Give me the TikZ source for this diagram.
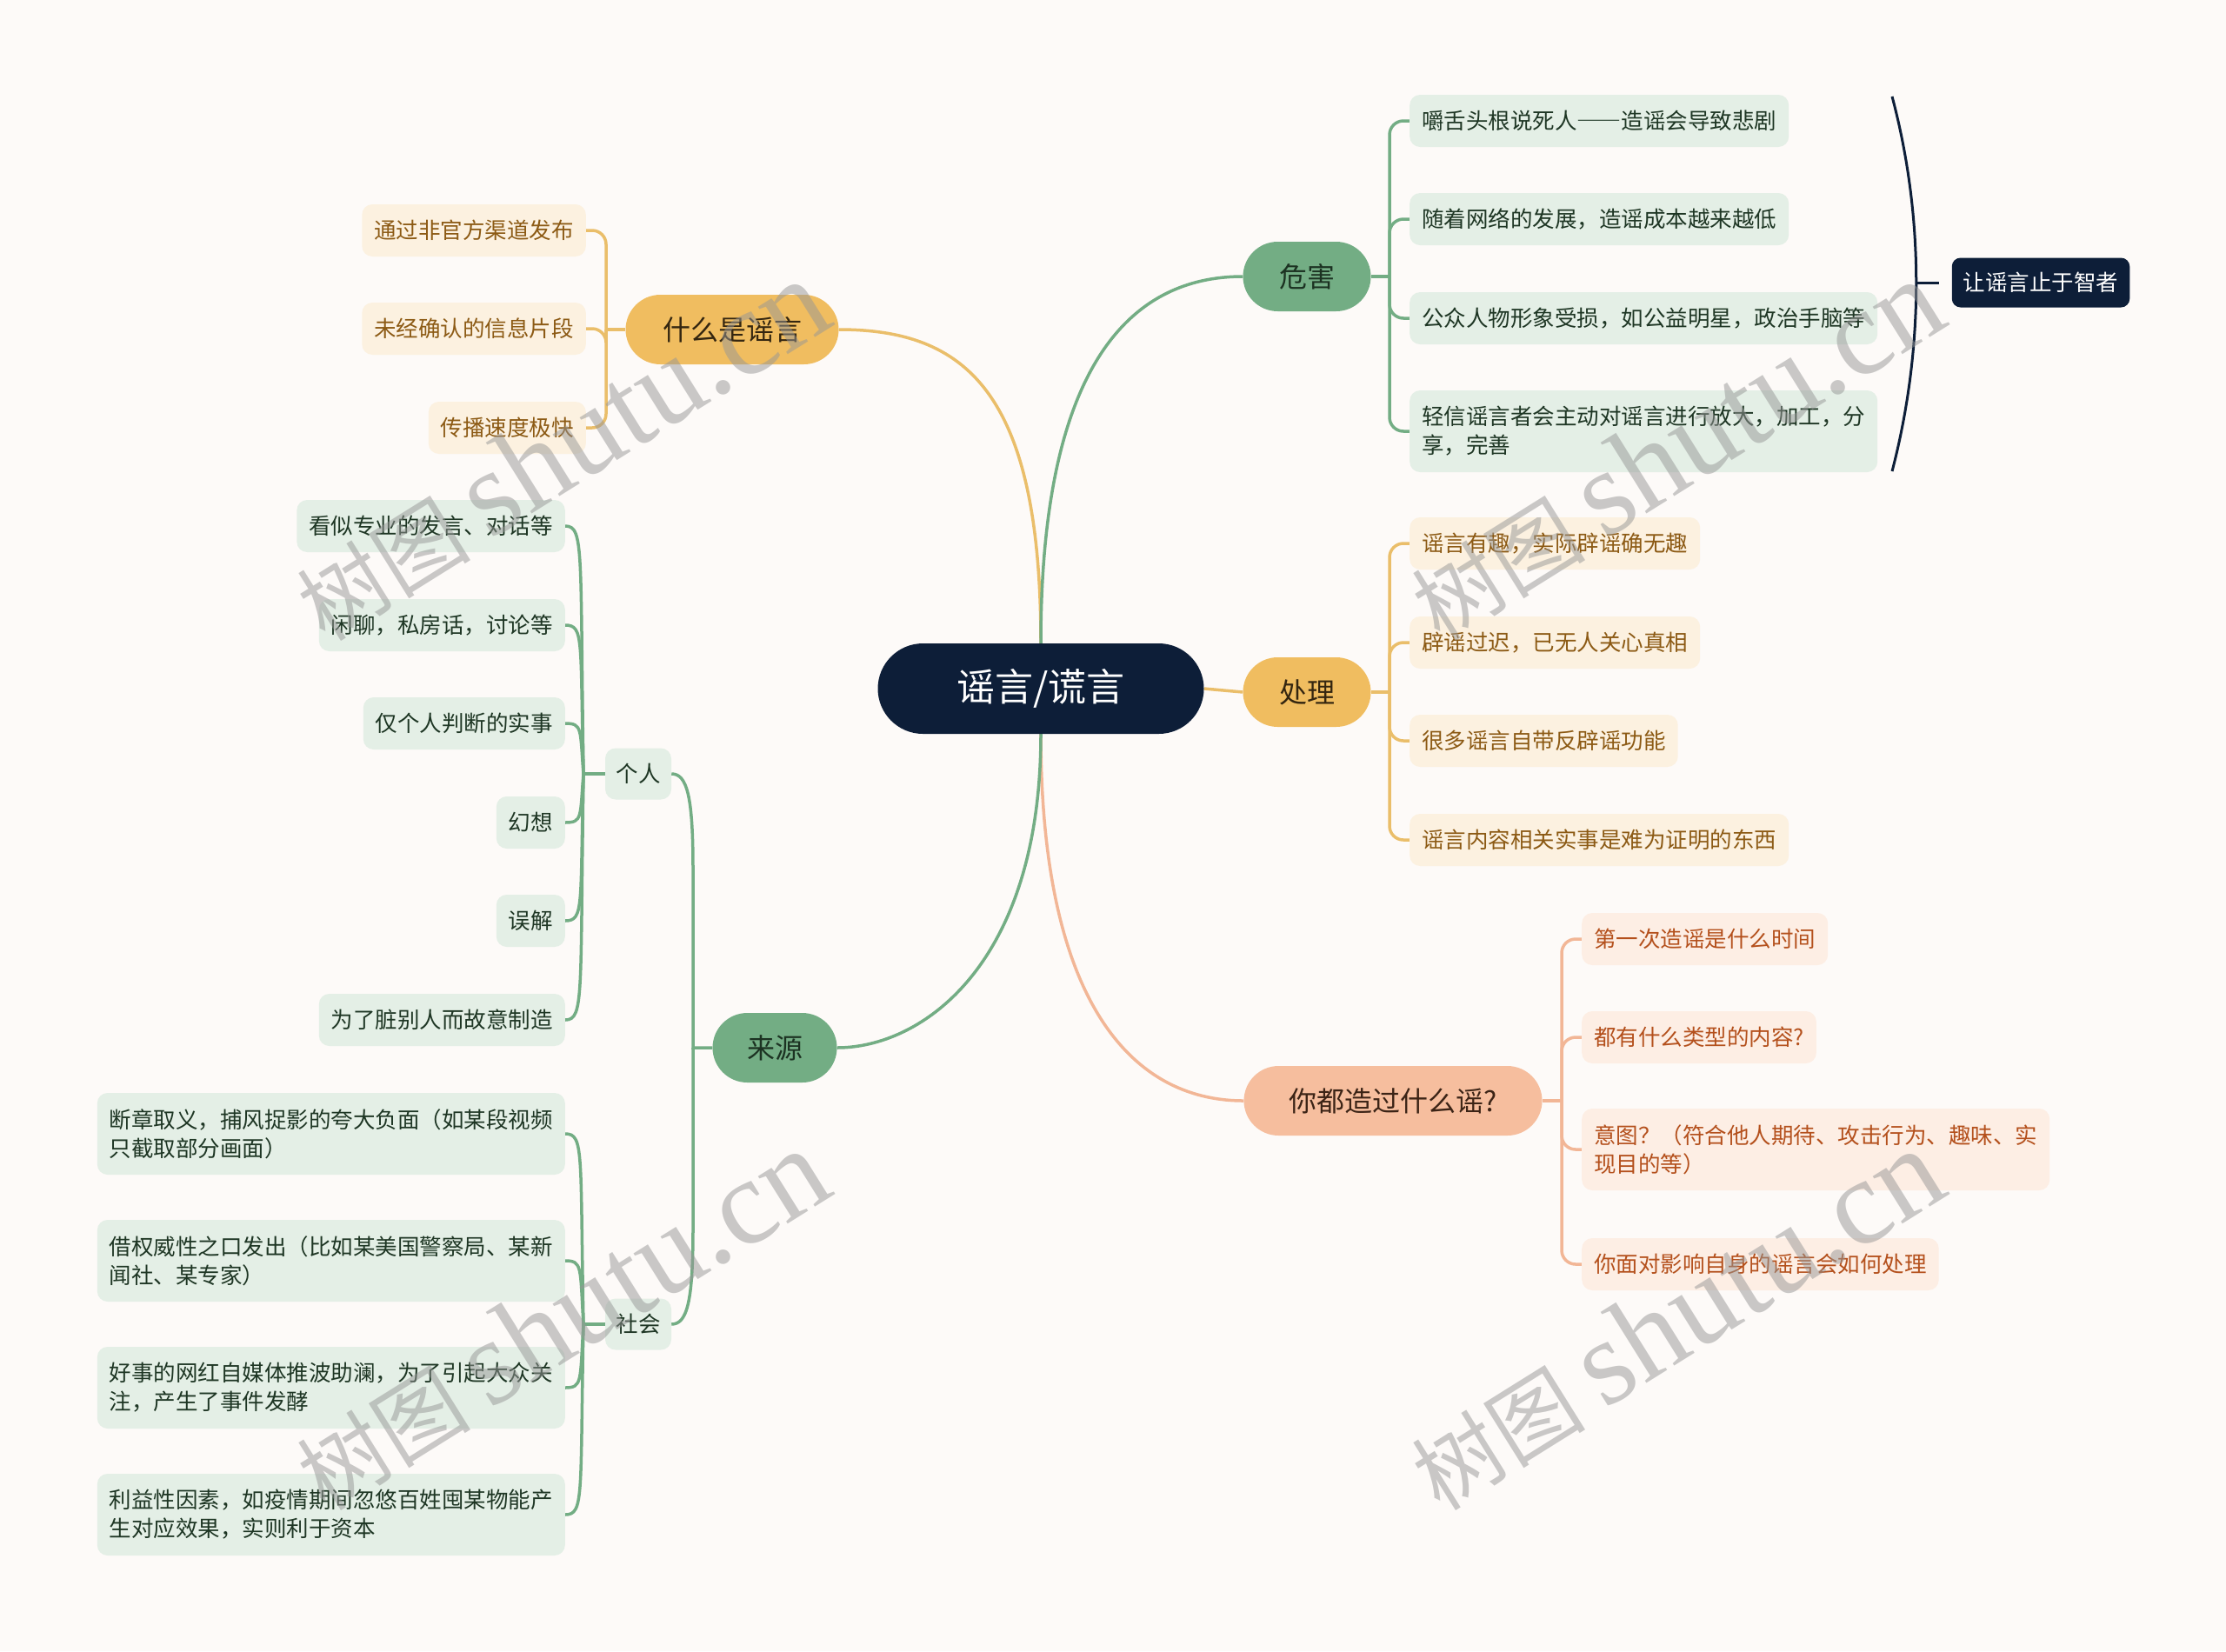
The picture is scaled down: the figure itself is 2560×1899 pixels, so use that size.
\documentclass[tikz,border=0pt]{standalone}
\usepackage{fontspec}
\setmainfont{Noto Sans CJK SC}
\newfontfamily\wmlat{Liberation Serif}
\newfontfamily\wmcjk{Noto Sans CJK SC}
\usetikzlibrary{backgrounds}
\definecolor{bg}{RGB}{253,250,248}
\definecolor{navy}{RGB}{13,30,56}
\definecolor{gold}{RGB}{240,189,96}
\definecolor{goldln}{RGB}{234,190,106}
\definecolor{goldtxt}{RGB}{52,38,16}
\definecolor{yleaf}{RGB}{252,241,224}
\definecolor{ytxt}{RGB}{140,90,20}
\definecolor{grn}{RGB}{115,173,132}
\definecolor{grntxt}{RGB}{28,50,34}
\definecolor{gleaf}{RGB}{228,239,230}
\definecolor{gtxt}{RGB}{30,54,36}
\definecolor{salmon}{RGB}{246,190,158}
\definecolor{salmonln}{RGB}{242,182,150}
\definecolor{salmontxt}{RGB}{60,36,22}
\definecolor{sleaf}{RGB}{253,238,228}
\definecolor{stxt}{RGB}{180,80,28}
\definecolor{wmgray}{RGB}{150,150,150}
\tikzset{
  rootnode/.style={fill=navy, text=white, rounded corners=52pt, minimum width=375pt,
    minimum height=104pt, inner sep=0pt, font=\fontsize{44}{52}\selectfont},
  mainnode/.style={rounded corners=40pt, minimum height=80pt, inner sep=0pt,
    font=\fontsize{32}{38}\selectfont},
  leaf/.style={rounded corners=12pt, inner xsep=14pt, inner ysep=0pt, minimum height=60pt,
    font=\fontsize{25.5}{33}\selectfont},
  twoline/.style={minimum height=94pt, align=left},
  gl/.style={leaf, fill=gleaf, text=gtxt},
  yl/.style={leaf, fill=yleaf, text=ytxt},
  sl/.style={leaf, fill=sleaf, text=stxt},
  gline/.style={draw=grn, line width=3.5pt},
  yline/.style={draw=goldln, line width=3.5pt},
  sline/.style={draw=salmonln, line width=3.5pt},
  nline/.style={draw=navy, line width=3pt},
  brk/.style={rounded corners=16pt},
  wm/.style={text=wmgray, text opacity=0.5, inner sep=0pt, rotate=32},
}
\begin{document}
\begin{tikzpicture}[x=1pt, y=-1pt]
\useasboundingbox (0,0) rectangle (2560,1899);
\begin{scope}[on background layer]
\fill[bg] (0,0) rectangle (2560,1899);
\end{scope}

% ---------- nodes ----------
\node[rootnode] (root) at (1197,792) {谣言/谎言};

\node[mainnode, fill=gold, text=goldtxt, minimum width=245pt] (shenme) at (842,379) {什么是谣言};
\node[mainnode, fill=grn, text=grntxt, minimum width=147pt] (weihai) at (1503,318) {危害};
\node[mainnode, fill=gold, text=goldtxt, minimum width=147pt] (chuli) at (1503,796) {处理};
\node[mainnode, fill=salmon, text=salmontxt, minimum width=343pt] (nidou) at (1602,1266) {你都造过什么谣?};
\node[mainnode, fill=grn, text=grntxt, minimum width=143pt] (laiyuan) at (891,1205) {来源};

% 什么是谣言 leaves
\node[yl, anchor=east] (s1) at (674,265) {通过非官方渠道发布};
\node[yl, anchor=east] (s2) at (674,378) {未经确认的信息片段};
\node[yl, anchor=east] (s3) at (674,492) {传播速度极快};

% 危害 leaves
\node[gl, anchor=west] (w1) at (1621,139) {嚼舌头根说死人{\addfontfeature{CharacterWidth=Full}——}造谣会导致悲剧};
\node[gl, anchor=west] (w2) at (1621,252) {随着网络的发展，造谣成本越来越低};
\node[gl, anchor=west] (w3) at (1621,366) {公众人物形象受损，如公益明星，政治手脑等};
\node[gl, twoline, anchor=west] (w4) at (1621,496) {轻信谣言者会主动对谣言进行放大，加工，分\\享，完善};
\node[rounded corners=10pt, fill=navy, text=white, inner xsep=13pt, inner ysep=0pt,
  minimum height=57pt, font=\fontsize{25.5}{33}\selectfont] (zhizhe) at (2347,325) {让谣言止于智者};
\coordinate (brkmid) at (2204,325);

% 处理 leaves
\node[yl, anchor=west] (c1) at (1621,625) {谣言有趣，实际辟谣确无趣};
\node[yl, anchor=west] (c2) at (1621,739) {辟谣过迟，已无人关心真相};
\node[yl, anchor=west] (c3) at (1621,852) {很多谣言自带反辟谣功能};
\node[yl, anchor=west] (c4) at (1621,966) {谣言内容相关实事是难为证明的东西};

% 你都造过什么谣 leaves
\node[sl, anchor=west] (n1) at (1819,1080) {第一次造谣是什么时间};
\node[sl, anchor=west] (n2) at (1819,1193) {都有什么类型的内容?};
\node[sl, twoline, anchor=west] (n3) at (1819,1322) {意图？（符合他人期待、攻击行为、趣味、实\\现目的等）};
\node[sl, anchor=west] (n4) at (1819,1454) {你面对影响自身的谣言会如何处理};

% 来源 sub-nodes
\node[gl, inner xsep=12.5pt, minimum height=59pt] (geren) at (734,890) {个人};
\node[gl, inner xsep=12.5pt, minimum height=59pt] (shehui) at (734,1523) {社会};

\node[gl, anchor=east] (g1) at (650,605) {看似专业的发言、对话等};
\node[gl, anchor=east] (g2) at (650,719) {闲聊，私房话，讨论等};
\node[gl, anchor=east] (g3) at (650,832) {仅个人判断的实事};
\node[gl, anchor=east] (g4) at (650,946) {幻想};
\node[gl, anchor=east] (g5) at (650,1059) {误解};
\node[gl, anchor=east] (g6) at (650,1173) {为了脏别人而故意制造};

\node[gl, twoline, anchor=east] (h1) at (650,1304) {断章取义，捕风捉影的夸大负面（如某段视频\\只截取部分画面）};
\node[gl, twoline, anchor=east] (h2) at (650,1450) {借权威性之口发出（比如某美国警察局、某新\\闻社、某专家）};
\node[gl, twoline, anchor=east] (h3) at (650,1596) {好事的网红自媒体推波助澜，为了引起大众关\\注，产生了事件发酵};
\node[gl, twoline, anchor=east] (h4) at (650,1742) {利益性因素，如疫情期间忽悠百姓囤某物能产\\生对应效果，实则利于资本};

% ---------- connectors ----------
\begin{scope}[on background layer]
\draw[yline] (root.north) .. controls (1197,450) and (1110,379) .. (shenme.east);
\draw[gline] (root.north) .. controls (1197,420) and (1300,318) .. (weihai.west);
\draw[yline] (root.east) -- (chuli.west);
\draw[sline] (root.south) .. controls (1197,1150) and (1300,1266) .. (nidou.west);
\draw[gline] (root.south) .. controls (1197,1110) and (1060,1205) .. (laiyuan.east);

% 什么是谣言 bracket
\draw[yline] (shenme.west) -- (697,379);
\foreach \n in {s1,s2,s3} \draw[yline, brk] (697,379) |- (\n.east);

% 危害 bracket
\draw[gline] (weihai.east) -- (1598,318);
\foreach \n in {w1,w2,w3,w4} \draw[gline, brk] (1598,318) |- (\n.west);
\draw[nline] (2176,111) .. controls (2213,250) and (2213,400) .. (2176,542);
\draw[nline, shorten >=15pt] (brkmid) -- (zhizhe.west);

% 处理 bracket
\draw[yline] (chuli.east) -- (1598,796);
\foreach \n in {c1,c2,c3,c4} \draw[yline, brk] (1598,796) |- (\n.west);

% 你都 bracket
\draw[sline] (nidou.east) -- (1796,1266);
\foreach \n in {n1,n2,n3,n4} \draw[sline, brk] (1796,1266) |- (\n.west);

% 来源 -> 个人 / 社会
\draw[gline] (laiyuan.west) -- (797,1205) -- (797,1000) .. controls (797,915) and (790,890) .. (geren.east);
\draw[gline] (797,1205) -- (797,1413) .. controls (797,1498) and (790,1523) .. (shehui.east);

% 个人 -> leaves
\draw[gline] (geren.west) -- (671,890) .. controls +(-4,-256) and +(22,0) .. (g1.east);
\draw[gline] (geren.west) -- (671,890) .. controls +(-4,-154) and +(22,0) .. (g2.east);
\draw[gline] (geren.west) -- (671,890) .. controls +(-4,-52) and +(20,0) .. (g3.east);
\draw[gline] (geren.west) -- (671,890) .. controls +(-4,50) and +(20,0) .. (g4.east);
\draw[gline] (geren.west) -- (671,890) .. controls +(-4,152) and +(22,0) .. (g5.east);
\draw[gline] (geren.west) -- (671,890) .. controls +(-4,255) and +(22,0) .. (g6.east);

% 社会 -> leaves
\draw[gline] (shehui.west) -- (671,1523) .. controls +(-4,-197) and +(22,0) .. (h1.east);
\draw[gline] (shehui.west) -- (671,1523) .. controls +(-4,-66) and +(20,0) .. (h2.east);
\draw[gline] (shehui.west) -- (671,1523) .. controls +(-4,66) and +(20,0) .. (h3.east);
\draw[gline] (shehui.west) -- (671,1523) .. controls +(-4,197) and +(22,0) .. (h4.east);
\end{scope}

% ---------- watermark ----------
\node[wm] (wm1) at (645,518) {\fontsize{100}{110}\wmcjk 树图 \wmlat\fontsize{140}{150}\selectfont shutu.cn};
\node[wm] (wm2) at (1927,518) {\fontsize{100}{110}\wmcjk 树图 \wmlat\fontsize{140}{150}\selectfont shutu.cn};
\node[wm] (wm3) at (645,1518) {\fontsize{100}{110}\wmcjk 树图 \wmlat\fontsize{140}{150}\selectfont shutu.cn};
\node[wm] (wm4) at (1927,1518) {\fontsize{100}{110}\wmcjk 树图 \wmlat\fontsize{140}{150}\selectfont shutu.cn};
\end{tikzpicture}
\end{document}
